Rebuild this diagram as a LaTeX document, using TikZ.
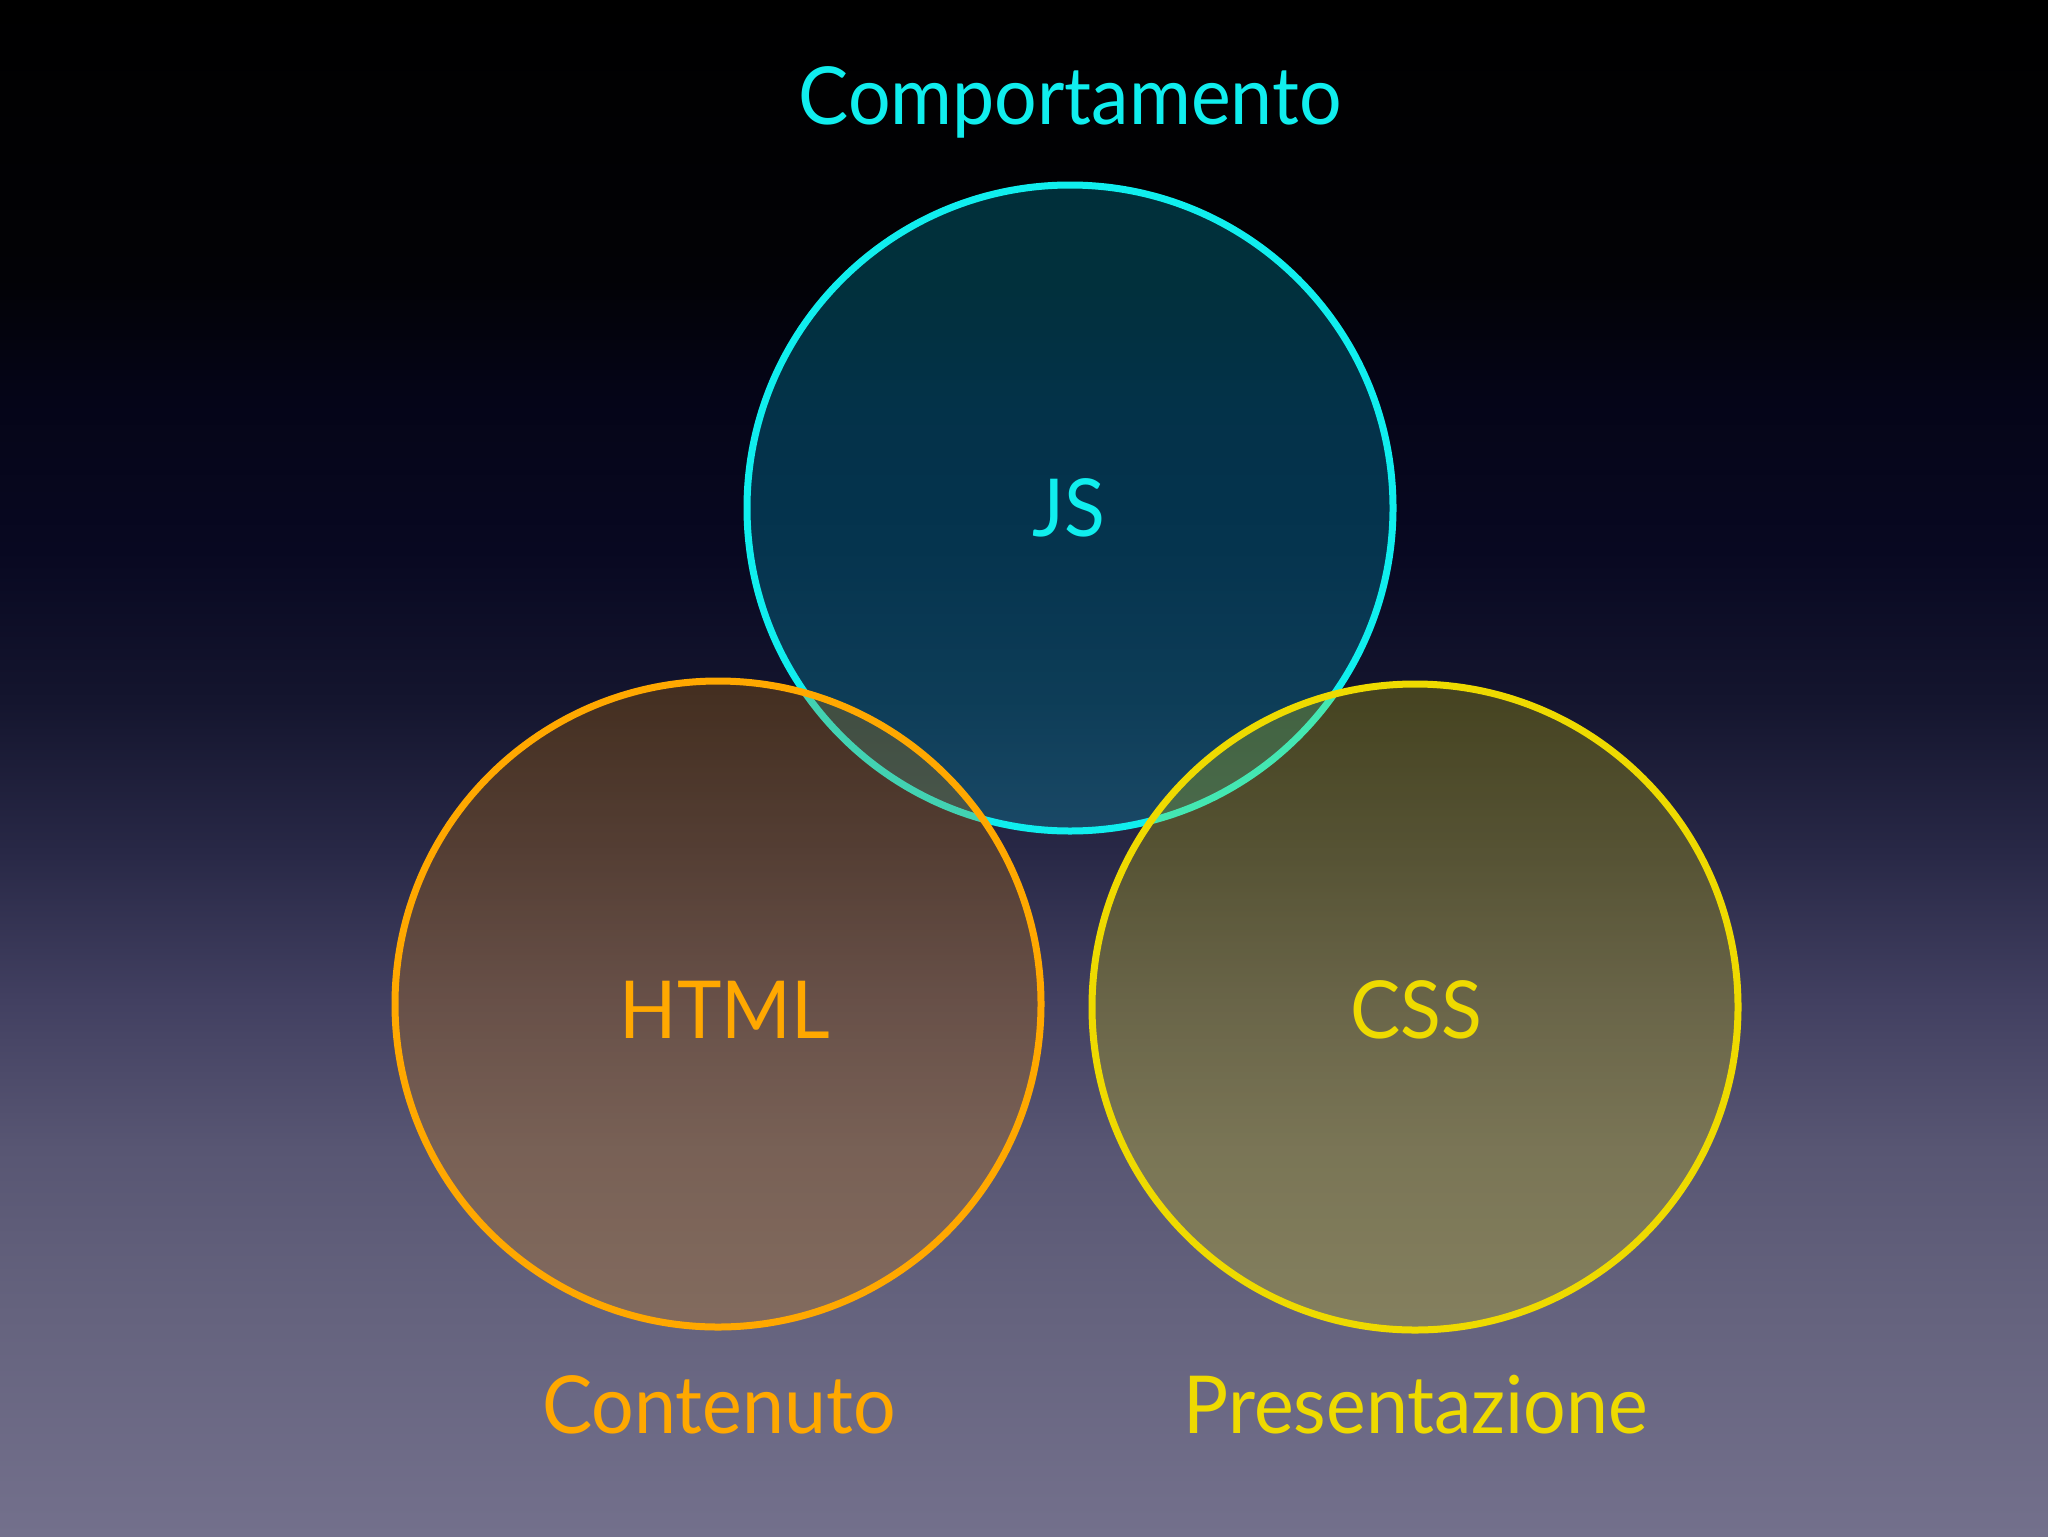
\documentclass[tikz,border=0pt]{standalone}
\usepackage{fontspec}
\setmainfont{Lato}[FakeStretch=0.94]
\definecolor{bg0}{RGB}{0,0,0}
\definecolor{bg1}{RGB}{2,2,6}
\definecolor{bg2}{RGB}{5,5,24}
\definecolor{bg3}{RGB}{8,8,33}
\definecolor{bg4}{RGB}{20,21,46}
\definecolor{bg5}{RGB}{40,40,70}
\definecolor{bg6}{RGB}{66,64,97}
\definecolor{bg7}{RGB}{88,86,115}
\definecolor{bg8}{RGB}{100,98,125}
\definecolor{bg9}{RGB}{115,112,140}
\definecolor{jscol}{RGB}{16,238,238}
\definecolor{jsfill}{RGB}{0,155,185}
\definecolor{htmlcol}{RGB}{255,168,0}
\definecolor{htmlfill}{RGB}{218,130,0}
\definecolor{csscol}{RGB}{238,218,0}
\definecolor{cssfill}{RGB}{224,212,0}
\pgfdeclareverticalshading{bgshade}{100bp}{color(0bp)=(bg9); color(25bp)=(bg9); color(32.7bp)=(bg8); color(37.6bp)=(bg7); color(42.4bp)=(bg6); color(47.3bp)=(bg5); color(52.2bp)=(bg4); color(57.1bp)=(bg3); color(62bp)=(bg2); color(65.9bp)=(bg1); color(75bp)=(bg0); color(100bp)=(bg0)}
\tikzset{
  venn/.style={circle, inner sep=0pt, outer sep=0pt, minimum size=323pt, line width=3.5pt},
  lbl/.style={anchor=base, inner sep=0pt, font=\fontsize{40pt}{48pt}\selectfont},
}
\begin{document}
\begin{tikzpicture}[x=0.5pt,y=-0.5pt]
\useasboundingbox (0,0) rectangle (2048,1536);
\shade[shading=bgshade] (0,0) rectangle (2048,1536);
\node[venn, draw=jscol, fill=jsfill, fill opacity=0.3] (js) at (1070,508) {};
\node[venn, draw=htmlcol, fill=htmlfill, fill opacity=0.25] (html) at (718,1004) {};
\node[venn, draw=csscol, fill=cssfill, fill opacity=0.25] (css) at (1415,1007) {};
\node[lbl, text=jscol] (tcomp) at (1070,125) {Comportamento};
\node[lbl, text=jscol] (tjs) at (1069,536) {JS};
\node[lbl, text=htmlcol] (thtml) at (725,1038) {HTML};
\node[lbl, text=csscol] (tcss) at (1416,1038) {CSS};
\node[lbl, text=htmlcol] (tcont) at (719,1433) {Contenuto};
\node[lbl, text=csscol] (tpres) at (1416,1433) {Presentazione};
\end{tikzpicture}
\end{document}
